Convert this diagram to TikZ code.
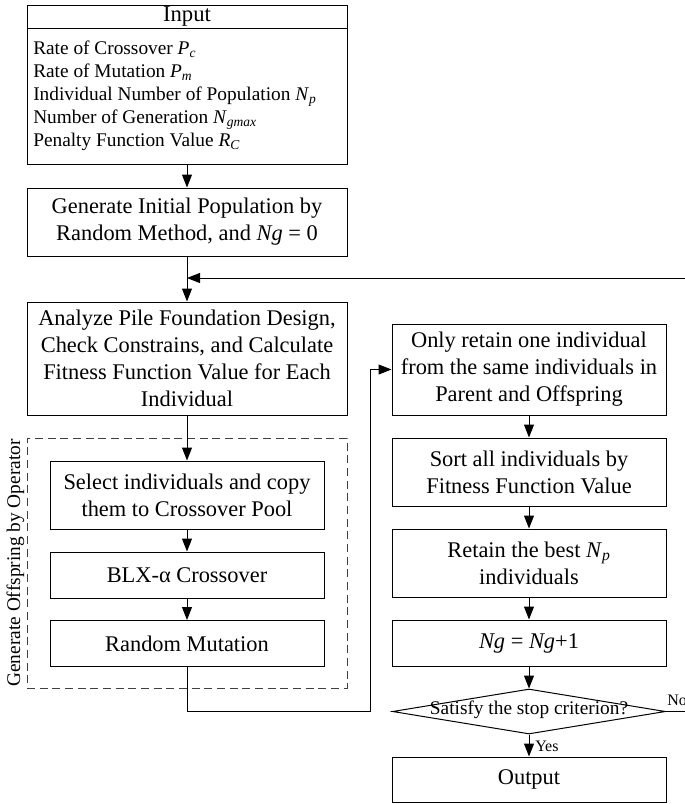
\documentclass[tikz,border=0pt]{standalone}
\usepackage{fontspec}
\setmainfont{Liberation Serif}
\usetikzlibrary{arrows.meta,shapes.geometric}
\newcommand\vsub[2]{\textit{#1}\textsubscript{\textit{#2}}}
\begin{document}
\begin{tikzpicture}[x=0.75pt,y=-0.75pt,
  box/.style={draw,line width=0.75pt,inner sep=0pt,align=center,font=\fontsize{16.8}{20.25}\selectfont},
  lwide/.style={minimum width=240pt},
  rwide/.style={minimum width=205.5pt},
  arr/.style={line width=0.75pt,-{Triangle[length=9.75pt,width=7.5pt]}},
  ln/.style={line width=0.75pt},
  txt/.style={inner sep=0pt,font=\fontsize{14.5}{17.25}\selectfont},
  lbl/.style={inner sep=0pt,font=\fontsize{12}{14}\selectfont}]
\useasboundingbox (0,0) rectangle (685,804);
\clip (0,0) rectangle (685,804);
% input block
\node[box,lwide,minimum height=119.25pt] (input) at (187,84.5) {};
\node[txt,font=\fontsize{17}{20}\selectfont] (intitle) at (187,16.5) {Input};
\coordinate (divy) at (0,28);
\draw[ln] (input.west |- divy) -- (input.east |- divy);
\node[txt,anchor=west,align=left] (initems) at (33,96) {Rate of Crossover \vsub{P}{c}\\
Rate of Mutation \vsub{P}{m}\\
Individual Number of Population \vsub{N}{p}\\
Number of Generation \vsub{N}{gmax}\\
Penalty Function Value \vsub{R}{C}};
% left column
\node[box,lwide,minimum height=51pt] (gen) at (187,222) {Generate Initial Population by\\Random Method, and \textit{Ng} = 0};
\node[box,lwide,minimum height=84.75pt] (ana) at (187,358.5) {Analyze Pile Foundation Design,\\Check Constrains, and Calculate\\Fitness Function Value for Each\\Individual};
\node[draw=black!75,dashed,dash pattern=on 6pt off 3.5pt,line width=0.75pt,minimum width=240pt,minimum height=187.5pt,inner sep=0pt] (grp) at (187,563) {};
\node[txt,rotate=90] (grplbl) at (15.5,563) {Generate Offspring by Operator};
\node[box,rwide,minimum height=51pt] (sel) at (187,495) {Select individuals and copy\\them to Crossover Pool};
\node[box,rwide,minimum height=34.5pt] (blx) at (187,575) {BLX-α Crossover};
\node[box,rwide,minimum height=34.5pt] (mut) at (187,643.5) {Random Mutation};
% right column
\node[box,rwide,minimum height=68.25pt] (only) at (529,369.5) {Only retain one individual\\from the same individuals in\\Parent and Offspring};
\node[box,rwide,minimum height=51pt] (sort) at (529,472) {Sort all individuals by\\Fitness Function Value};
\node[box,rwide,minimum height=51pt] (ret) at (529,563) {Retain the best \vsub{N}{p}\\individuals};
\node[box,rwide,minimum height=34.5pt] (ng) at (529,643) {\textit{Ng} = \textit{Ng}+1};
\node[draw,line width=0.75pt,diamond,inner sep=0pt,minimum width=204.75pt,minimum height=33.75pt] (dec) at (529,711.5) {};
\node[txt] (dectxt) at (529,710) {Satisfy the stop criterion?};
\node[box,rwide,minimum height=33.75pt] (out) at (529,779.5) {Output};
\node[lbl,anchor=base west] (yes) at (535,751) {Yes};
\node[lbl,anchor=base west] (no) at (667,705) {No};
% connectors
\coordinate (fbR) at (700,278);
\coordinate (jx) at (370,711);
\draw[arr] (input) -- (gen);
\draw[arr] (gen) -- (ana);
\draw[arr] (dec.east) -- (dec.east -| fbR) -- (fbR) -- (fbR -| ana);
\draw[arr] (ana) -- (sel);
\draw[arr] (sel) -- (blx);
\draw[arr] (blx) -- (mut);
\draw[arr] (mut.south) |- (jx) |- (only.west);
\draw[arr] (only) -- (sort);
\draw[arr] (sort) -- (ret);
\draw[arr] (ret) -- (ng);
\draw[arr] (ng) -- (dec);
\draw[arr] (dec) -- (out);
\end{tikzpicture}
\end{document}
